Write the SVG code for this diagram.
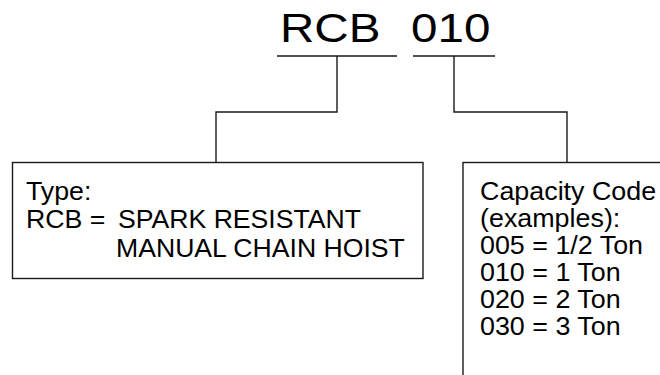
<svg xmlns="http://www.w3.org/2000/svg" width="660" height="375" viewBox="0 0 660 375">
<style>
.ln{fill:none;stroke:#1a1a1a;stroke-width:1.4}
.box{fill:#fff;stroke:#1a1a1a;stroke-width:1.4}
.t{font-family:"Liberation Sans",Arial,sans-serif;fill:#000}
.title{font-size:41px}
.body{font-size:25px}
</style>
<rect width="660" height="375" fill="#fff"/>
<g id="title">
<text class="t title" transform="translate(280,41.7) scale(1.16,1)">RCB</text>
<text class="t title" transform="translate(411,41.7) scale(1.16,1)">010</text>
</g>
<g id="connectors">
<path class="ln" d="M277,56H397M337,56V112H216V162.5"/>
<path class="ln" d="M413,56H495M454,56V112H567V162.5"/>
</g>
<g id="type-box">
<rect class="box" x="12.5" y="162.5" width="410.5" height="116"/>
<text class="t body" transform="translate(26,200) scale(1.07,1)">Type:</text>
<text class="t body" transform="translate(26,228) scale(1.07,1)">RCB =</text>
<text class="t body" transform="translate(118,228) scale(1.065,1)">SPARK RESISTANT</text>
<text class="t body" transform="translate(116,257) scale(1.065,1)">MANUAL CHAIN HOIST</text>
</g>
<g id="capacity-box">
<rect class="box" x="463" y="162.5" width="260" height="260"/>
<text class="t body" transform="translate(480,200) scale(1.075,1)">Capacity Code</text>
<text class="t body" transform="translate(480,227) scale(1.075,1)">(examples):</text>
<text class="t body" transform="translate(480,254) scale(1.075,1)">005 = 1/2 Ton</text>
<text class="t body" transform="translate(480,281) scale(1.075,1)">010 = 1 Ton</text>
<text class="t body" transform="translate(480,308) scale(1.075,1)">020 = 2 Ton</text>
<text class="t body" transform="translate(480,335) scale(1.075,1)">030 = 3 Ton</text>
</g>
</svg>
